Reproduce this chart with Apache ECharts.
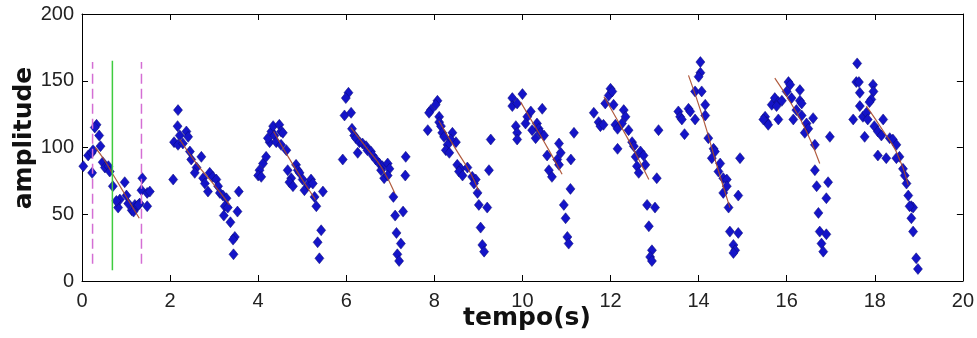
<!DOCTYPE html>
<html>
<head>
<meta charset="utf-8">
<script src="https://cdn.jsdelivr.net/npm/echarts@6/dist/echarts.min.js"></script>
<style>html,body{margin:0;padding:0;background:#fff;}#c{width:977px;height:338px;}</style>
</head>
<body>
<div id="c"></div>
<script>
// ---- data (time in s, amplitude) ----
const xTicks = [0, 2, 4, 6, 8, 10, 12, 14, 16, 18, 20];
const yTicks = [0, 50, 100, 150, 200];

const cycle1 = [[0.03,86],[0.14,94],[0.22,96],[0.25,98],[0.23,81],[0.33,117],[0.29,115],[0.39,109],[0.42,101],[0.47,89],[0.52,85],[0.6,86],[0.63,82],[0.7,71],[0.82,55],[0.86,61],[0.97,74],[1.01,64],[1.05,58],[1.13,53],[1.2,57],[1.25,56],[1.31,58],[1.37,77],[1.35,68],[1.48,66],[1.54,67],[1.48,56],[1.17,52],[1.28,57],[0.78,60]];
const cycle2 = [[2.18,128],[2.17,116],[2.22,109],[2.37,112],[2.41,108],[2.09,104],[2.18,102],[2.29,103],[2.07,76],[2.45,97],[2.48,91],[2.71,93],[2.6,85],[2.56,81],[2.75,77],[2.79,73],[2.86,67],[2.9,81],[2.97,78],[3.05,76],[3.09,71],[3.13,66],[3.2,64],[3.28,62],[3.24,56],[3.31,55],[3.22,49],[3.56,67],[3.53,52],[3.37,44],[3.47,33],[3.43,31],[3.44,20]];
const cycle3 = [[4.03,83],[4.0,79],[4.07,78],[4.11,88],[4.18,93],[4.26,104],[4.22,107],[4.3,112],[4.34,116],[4.48,117],[4.52,112],[4.56,111],[4.37,109],[4.41,104],[4.52,102],[4.64,98],[4.67,83],[4.75,77],[4.71,74],[4.79,71],[4.86,87],[4.9,83],[4.94,81],[5.01,76],[5.05,68],[5.13,72],[5.2,76],[5.24,73],[5.28,63],[5.47,67],[5.32,56],[5.43,38],[5.35,29],[5.39,17]];
const cycle4 = [[6.05,141],[5.99,137],[5.96,124],[6.11,126],[5.92,91],[6.13,114],[6.18,109],[6.22,107],[6.26,96],[6.3,104],[6.37,103],[6.45,101],[6.48,98],[6.56,97],[6.6,94],[6.67,91],[6.75,88],[6.82,86],[6.94,88],[6.98,84],[6.86,77],[6.94,79],[6.79,83],[7.35,93],[7.34,79],[7.07,63],[7.11,49],[7.29,52],[7.14,36],[7.24,28],[7.16,20],[7.2,15]];
const cycle5 = [[8.07,135],[8.03,132],[7.92,128],[7.88,126],[7.85,113],[8.11,123],[8.11,119],[8.15,116],[8.18,111],[8.22,108],[8.41,111],[8.49,104],[8.37,106],[8.3,102],[8.26,98],[8.34,96],[8.52,87],[8.6,84],[8.56,82],[8.75,85],[8.64,79],[8.86,78],[8.94,76],[8.9,73],[8.98,66],[9.28,106],[9.24,83],[9.01,57],[9.2,55],[9.05,40],[9.09,27],[9.13,22]];
const cycle6 = [[10.0,140],[9.77,137],[9.77,131],[9.88,133],[10.19,127],[10.11,123],[10.07,118],[9.85,116],[9.88,111],[9.88,106],[10.45,129],[10.22,113],[10.33,118],[10.37,114],[10.41,111],[10.3,107],[10.49,109],[10.83,103],[11.17,111],[10.87,96],[10.56,94],[10.6,83],[10.79,91],[10.83,87],[10.67,78],[11.1,91],[11.09,69],[10.94,57],[10.98,47],[11.02,33],[11.05,28]];
const cycle7 = [[11.96,139],[11.88,133],[11.62,126],[11.73,119],[11.77,116],[11.84,117],[12.0,144],[12.04,142],[12.07,132],[12.11,117],[12.16,114],[12.3,128],[12.34,123],[12.26,118],[12.41,113],[12.16,99],[12.49,104],[12.53,101],[12.57,93],[12.68,97],[12.75,94],[12.79,87],[12.6,86],[12.64,81],[13.09,113],[13.05,77],[12.83,57],[13.01,55],[12.87,41],[12.94,23],[12.9,18],[12.94,15]];
const cycle8 = [[14.04,164],[14.04,156],[14.0,153],[13.92,142],[14.07,142],[14.15,132],[14.15,124],[13.54,127],[13.58,123],[13.62,121],[13.77,129],[13.81,127],[13.92,121],[13.68,110],[14.22,107],[14.34,99],[14.37,97],[14.3,92],[14.49,88],[14.45,82],[14.56,77],[14.64,76],[14.64,71],[14.56,66],[14.94,92],[14.9,64],[14.68,55],[14.71,37],[14.9,36],[14.79,27],[14.83,23],[14.79,21]];
const cycle9 = [[15.51,123],[15.55,119],[15.58,117],[15.47,121],[15.81,121],[15.66,132],[15.73,137],[15.81,134],[15.89,135],[15.77,131],[16.04,149],[16.08,147],[16.0,142],[16.3,143],[16.11,137],[16.3,135],[16.34,133],[16.22,128],[16.15,121],[16.34,124],[16.45,118],[16.6,122],[16.49,114],[16.41,111],[16.64,102],[16.98,108],[16.64,83],[16.68,71],[16.94,74],[16.9,62],[16.72,51],[16.75,37],[16.9,35],[16.79,28],[16.83,22]];
const cycle10 = [[17.6,163],[17.58,149],[17.64,149],[17.66,141],[17.96,147],[17.97,142],[17.92,136],[17.88,134],[17.66,131],[17.51,121],[17.73,123],[17.81,126],[17.84,121],[17.77,108],[17.99,116],[18.07,112],[18.19,121],[18.15,109],[18.07,94],[18.26,92],[18.34,107],[18.41,106],[18.49,102],[18.56,93],[18.49,92],[18.64,84],[18.68,79],[18.72,73],[18.76,64],[18.83,56],[18.87,55],[18.79,56],[18.83,47],[18.87,37],[18.94,17],[18.98,9]];

const fit1 = [[0.3,100],[0.5,91],[0.7,80],[0.9,69],[1.1,58],[1.3,47]];
const fit2 = [[2.22,106],[2.6,88],[3.0,72],[3.35,57]];
const fit3 = [[4.35,112],[4.7,92],[5.0,76],[5.3,61]];
const fit4 = [[6.1,115],[6.5,98],[6.8,85],[7.1,66]];
const fit5 = [[8.1,120],[8.5,98],[8.8,82],[9.0,68]];
const fit6 = [[9.96,134],[10.3,115],[10.6,98],[10.9,80]];
const fit7 = [[11.85,138],[12.2,118],[12.5,100],[12.87,76]];
const fit8 = [[13.77,154],[14.1,122],[14.4,88],[14.71,55]];
const fit9 = [[15.73,152],[16.1,133],[16.45,112],[16.75,88]];
const fit10 = [[17.81,131],[18.2,112],[18.5,96],[18.76,72]];

const winStart = [[0.24,13],[0.24,164]];
const winEnd = [[1.35,13],[1.35,164]];
const winMid = [[0.69,8],[0.69,165]];

// ---- chart ----
const cycles = [cycle1,cycle2,cycle3,cycle4,cycle5,cycle6,cycle7,cycle8,cycle9,cycle10];
const fits = [fit1,fit2,fit3,fit4,fit5,fit6,fit7,fit8,fit9,fit10];
const allPts = [].concat(...cycles);

const axisLine = {show:true, onZero:false, lineStyle:{color:'#000', width:1}};
const tickIn = {show:true, inside:true, length:6, lineStyle:{color:'#000', width:1}};
const labelFont = {fontFamily:'Liberation Sans, Arial, sans-serif', fontSize:20, color:'#222'};

const series = [];
series.push({type:'scatter', data:allPts, symbol:'diamond', symbolSize:[9,11],
  itemStyle:{color:'#1414c8', borderColor:'#0a0a70', borderWidth:0.5, opacity:1}, z:2, animation:false});
fits.forEach(f => series.push({type:'line', data:f, smooth:true, showSymbol:false, symbol:'none',
  lineStyle:{color:'#a84a2a', width:1.2, opacity:0.9}, z:3, animation:false}));
series.push({type:'line', data:winStart, symbol:'none', lineStyle:{color:'#d46ed4', width:1.5, type:[10,5]}, z:4, animation:false});
series.push({type:'line', data:winEnd, symbol:'none', lineStyle:{color:'#d46ed4', width:1.5, type:[10,5]}, z:4, animation:false});
series.push({type:'line', data:winMid, symbol:'none', lineStyle:{color:'#3fcc3f', width:1.5}, z:4, animation:false});

const chart = echarts.init(document.getElementById('c'), null, {renderer:'canvas'});
chart.setOption({
  animation:false,
  backgroundColor:'#fff',
  grid:{left:82, right:12, top:14, bottom:57, containLabel:false},
  xAxis:[
    {type:'value', min:xTicks[0], max:xTicks[xTicks.length-1], interval:2, position:'bottom',
     axisLine, axisTick:tickIn, splitLine:{show:false},
     axisLabel:Object.assign({margin:10}, labelFont)},
    {type:'value', min:xTicks[0], max:xTicks[xTicks.length-1], interval:2, position:'top',
     axisLine, axisTick:tickIn, splitLine:{show:false}, axisLabel:{show:false}}
  ],
  yAxis:[
    {type:'value', min:yTicks[0], max:yTicks[yTicks.length-1], interval:50, position:'left',
     axisLine, axisTick:tickIn, splitLine:{show:false},
     axisLabel:Object.assign({margin:8}, labelFont)},
    {type:'value', min:yTicks[0], max:yTicks[yTicks.length-1], interval:50, position:'right',
     axisLine, axisTick:tickIn, splitLine:{show:false}, axisLabel:{show:false}}
  ],
  graphic:[
    {type:'text', x:527, y:318, style:{text:'tempo(s)', x:0, y:0, align:'center', verticalAlign:'middle',
      font:'bold 25px "DejaVu Sans", sans-serif', fill:'#111'}},
    {type:'text', x:24, y:138, rotation:Math.PI/2, style:{text:'amplitude', x:0, y:0, align:'center', verticalAlign:'middle',
      font:'bold 25px "DejaVu Sans", sans-serif', fill:'#111'}}
  ],
  series
});
</script>
</body>
</html>
